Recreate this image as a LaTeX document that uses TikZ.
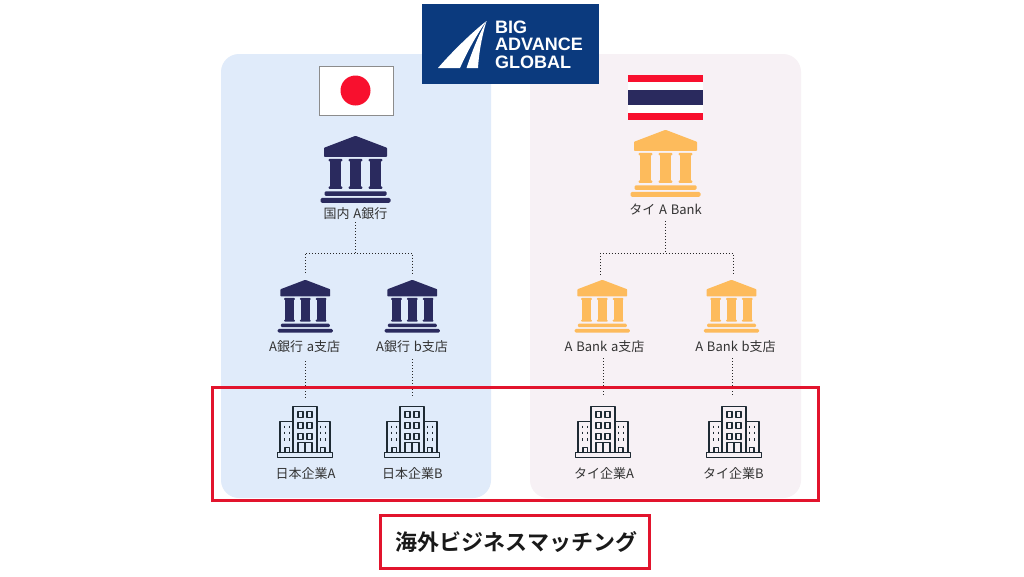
\documentclass[tikz,border=0pt]{standalone}
\usepackage{fontspec}
\setmainfont[WordSpace=1.3]{Noto Sans CJK JP}
\newfontfamily\logofont{Liberation Sans}
\newfontfamily\boldjp{Noto Sans CJK JP Bold}
\definecolor{navyicon}{HTML}{2A2A5E}
\definecolor{goldicon}{HTML}{FDBB5C}
\definecolor{panelblue}{HTML}{E0EBFA}
\definecolor{panelpink}{HTML}{F7F1F5}
\definecolor{logoblue}{HTML}{0B3A7E}
\definecolor{boxred}{HTML}{E2142D}
\definecolor{flagred}{HTML}{F8102E}
\definecolor{labelgrey}{HTML}{333333}
\definecolor{bldline}{HTML}{1E2A33}
\tikzset{
  x=1pt,y=-1pt,
  panel/.style={rounded corners=18pt,draw=none},
  redbox/.style={draw=boxred,line width=3pt},
  lab/.style={font=\fontsize{13}{15}\selectfont,text=labelgrey,inner sep=0pt},
  iconbox/.style={minimum width=#1,minimum height=#1,inner sep=0pt,draw=none},
  link/.style={line width=1pt,dotted,line cap=butt,black!85},
  bankicon/.pic={
    \fill[#1,rounded corners=0.6pt] (0,0) -- (31.5,12) -- (31.5,21) -- (-31.5,21) -- (-31.5,12) -- cycle;
    \foreach \c in {-20,0,20}{
      \fill[#1,rounded corners=0.8pt] (\c-6.8,23) rectangle (\c+6.8,25.5);
      \fill[#1] (\c-5.6,25) rectangle (\c+5.6,51);
      \fill[#1,rounded corners=0.8pt] (\c-6.8,50.5) rectangle (\c+6.8,53);
    }
    \fill[#1,rounded corners=1.2pt] (-31,55.5) rectangle (31,60);
    \fill[#1,rounded corners=1.5pt] (-35,62) rectangle (35,67);
  },
  towericon/.pic={
    \begin{scope}[draw=bldline,line width=1.3pt,line join=round]
      \draw (-12,46) -- (-12,0) -- (12,0) -- (12,46);
      \draw (-12,15) -- (-25,15) -- (-25,46);
      \draw (12,15) -- (25,15) -- (25,46);
      \draw (-27.5,46) rectangle (27.5,51);
      \draw (-7,46) -- (-7,36) -- (7,36) -- (7,46) (0,36) -- (0,46);
      \draw (-20,46) -- (-20,41) -- (-15.5,41) -- (-15.5,46);
      \draw (20,46) -- (20,41) -- (15.5,41) -- (15.5,46);
      \foreach \yy in {5,16,27}{
        \draw (-7,\yy) rectangle (-2,\yy+5.5);
        \draw (2,\yy) rectangle (7,\yy+5.5);
      }
      \foreach \xx in {-20.5,-15.5,15.5,20.5}\foreach \yy in {20,26,32.5}{
        \draw[line width=1.2pt] (\xx,\yy-1.3) -- (\xx,\yy+1.3);
      }
    \end{scope}
  }
}
\begin{document}
\begin{tikzpicture}[x=1pt,y=-1pt]
\useasboundingbox (0,0) rectangle (1024,576);
\fill[white] (0,0) rectangle (1024,576);
% panels
\fill[panel,fill=panelblue] (221,54) rectangle (491,498);
\fill[panel,fill=panelpink] (530,54) rectangle (801,498);
% logo
\fill[logoblue] (422,4) rectangle (599,84);
\fill[white] (486.5,21) .. controls (470,34) and (450,54) .. (438,68) -- (460,68) .. controls (467,52) and (477,34) .. cycle;
\fill[white] (486.5,21) .. controls (478,36) and (472,52) .. (466.5,68) -- (478,68) .. controls (479,52) and (482,36) .. cycle;
\node[anchor=west,inner sep=0pt,text=white,align=left,font=\logofont\bfseries\fontsize{18}{17.5}\selectfont] (logotext) at (495,44.5) {BIG\\ADVANCE\\GLOBAL};
% flags
\draw[fill=white,draw=black!45,line width=0.8pt] (319,66) rectangle (393,115);
\fill[flagred] (355.5,90.5) circle (15);
\fill[flagred] (628,74.5) rectangle (703,82);
\fill[white] (628,82) rectangle (703,90);
\fill[navyicon] (628,90) rectangle (703,105);
\fill[white] (628,105) rectangle (703,112.5);
\fill[flagred] (628,112.5) rectangle (703,120);
% icon anchors
\node[iconbox=67pt] (bankL) at (355.5,169.5) {};
\node[iconbox=53pt] (bankLa) at (305.3,306.5) {};
\node[iconbox=53pt] (bankLb) at (412.3,306.5) {};
\node[iconbox=67pt] (bankR) at (665.5,163.5) {};
\node[iconbox=53pt] (bankRa) at (602.3,306.5) {};
\node[iconbox=53pt] (bankRb) at (731.5,306.5) {};
\node[iconbox=51pt] (bldLa) at (305,432.5) {};
\node[iconbox=51pt] (bldLb) at (412,432.5) {};
\node[iconbox=51pt] (bldRa) at (603,432.5) {};
\node[iconbox=51pt] (bldRb) at (734,432.5) {};
% icons
\pic at (bankL.north) {bankicon=navyicon};
\pic[scale=0.79] at (bankLa.north) {bankicon=navyicon};
\pic[scale=0.79] at (bankLb.north) {bankicon=navyicon};
\pic at (bankR.north) {bankicon=goldicon};
\pic[scale=0.79] at (bankRa.north) {bankicon=goldicon};
\pic[scale=0.79] at (bankRb.north) {bankicon=goldicon};
\pic at (bldLa.north) {towericon};
\pic at (bldLb.north) {towericon};
\pic at (bldRa.north) {towericon};
\pic at (bldRb.north) {towericon};
% labels
\node[lab] (tL) at (355.5,214) {国内 A銀行};
\node[lab] (tLa) at (304.7,347) {A銀行 a支店};
\node[lab] (tLb) at (412,347) {A銀行 b支店};
\node[lab] (tR) at (665.5,209) {タイ A Bank};
\node[lab] (tRa) at (604.5,347) {A Bank a支店};
\node[lab] (tRb) at (735.5,347) {A Bank b支店};
\node[lab] (tLA) at (305.5,474) {日本企業A};
\node[lab] (tLB) at (412.5,474) {日本企業B};
\node[lab] (tRA) at (604,474) {タイ企業A};
\node[lab] (tRB) at (733.5,474) {タイ企業B};
% connectors
\coordinate (jL) at (355.8,253);
\coordinate (jR) at (665.7,253);
\coordinate (dropLa) at (305.3,273);
\coordinate (dropLb) at (412.8,273);
\coordinate (dropRa) at (600.8,275);
\coordinate (dropRb) at (733,275);
\coordinate (footLa) at (305.3,398);
\coordinate (footLb) at (412,397);
\coordinate (footRa) at (603,397);
\coordinate (footRb) at (732.7,397);
\draw[link] (tL.south -| jL) ++(0,2) -- (jL);
\draw[link] (dropLa) |- (jL) -| (dropLb);
\draw[link] (tR.south -| jR) ++(0,6) -- (jR);
\draw[link] (dropRa) |- (jR) -| (dropRb);
\draw[link] (tLa.south -| footLa) ++(0,8) -- (footLa);
\draw[link] (tLb.south -| footLb) ++(0,6) -- (footLb);
\draw[link] (tRa.south -| footRa) ++(0,5) -- (footRa);
\draw[link] (tRb.south -| footRb) ++(0,5) -- (footRb);
% red boxes
\draw[redbox] (212,387.5) rectangle (818,500.5);
\draw[redbox] (380.5,515.5) rectangle (649.5,568.5);
\node[inner sep=0pt,text=black!90,font=\boldjp\fontsize{22}{24}\selectfont] (match) at (516.5,542) {海外ビジネスマッチング};
\end{tikzpicture}
\end{document}
